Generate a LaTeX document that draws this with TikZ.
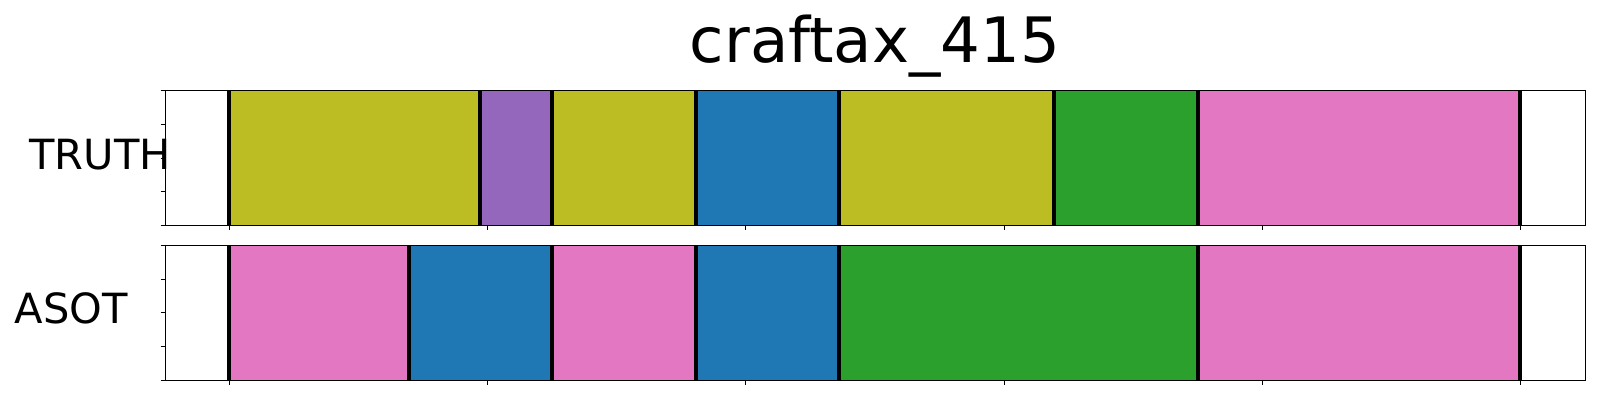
\documentclass[tikz,border=0pt]{standalone}
\usepackage{fontspec}
\setmainfont{DejaVu Sans}
\definecolor{tolive}{HTML}{BCBD22}
\definecolor{tpurple}{HTML}{9467BD}
\definecolor{tblue}{HTML}{1F77B4}
\definecolor{tgreen}{HTML}{2CA02C}
\definecolor{tpink}{HTML}{E377C2}
\tikzset{
  seg/.style={draw=#1!85!black, line width=0.4pt, fill=#1},
  bound/.style={draw=black, line width=2.1pt},
  frame/.style={draw=black, line width=0.55pt},
  tick/.style={draw=black, line width=0.4pt},
  lab/.style={font=\fontsize{20.8pt}{24pt}\selectfont, inner sep=0pt, anchor=base west},
  ttl/.style={font=\fontsize{31.3pt}{36pt}\selectfont, inner sep=0pt, anchor=base}
}
\begin{document}
\begin{tikzpicture}[x=0.5pt,y=-0.5pt]
\useasboundingbox (0,0) rectangle (1600,400);
% ---- top panel (TRUTH) ----
\foreach \a/\b/\c in {229/480/tolive,480/552/tpurple,552/695.7/tolive,695.7/839/tblue,839/1053.7/tolive,1053.7/1197.7/tgreen,1197.7/1520/tpink}
  \path[seg=\c] (\a,90.3) rectangle (\b,225.3);
\foreach \x in {229,480,552,695.7,839,1053.7,1197.7,1520}
  \draw[bound] (\x,90.3) -- (\x,225.3);
\draw[frame] (165.5,90.3) rectangle (1585.3,225.3);
% ---- bottom panel (ASOT) ----
\foreach \a/\b/\c in {229/409/tpink,409/552/tblue,552/695.7/tpink,695.7/839/tblue,839/1197.7/tgreen,1197.7/1520/tpink}
  \path[seg=\c] (\a,245.3) rectangle (\b,380.3);
\foreach \x in {229,409,552,695.7,839,1197.7,1520}
  \draw[bound] (\x,245.3) -- (\x,380.3);
\draw[frame] (165.5,245.3) rectangle (1585.3,380.3);
% ---- ticks ----
\foreach \y in {90.3,124,158,191.5,225.3,245.3,279,312.8,346.5,380.3}
  \draw[tick] (160.5,\y) -- (165.5,\y);
\foreach \x in {229,487.3,745.6,1004,1262.2,1520.5}{
  \draw[tick] (\x,225.3) -- (\x,230.3);
  \draw[tick] (\x,380.3) -- (\x,385.3);
}
% ---- texts ----
\node[ttl] (title) at (875,62.7) {craftax\_415};
\node[lab] (truth) at (29,170) {TRUTH};
\node[lab] (asot) at (14.5,323.3) {ASOT};
\end{tikzpicture}
\end{document}
